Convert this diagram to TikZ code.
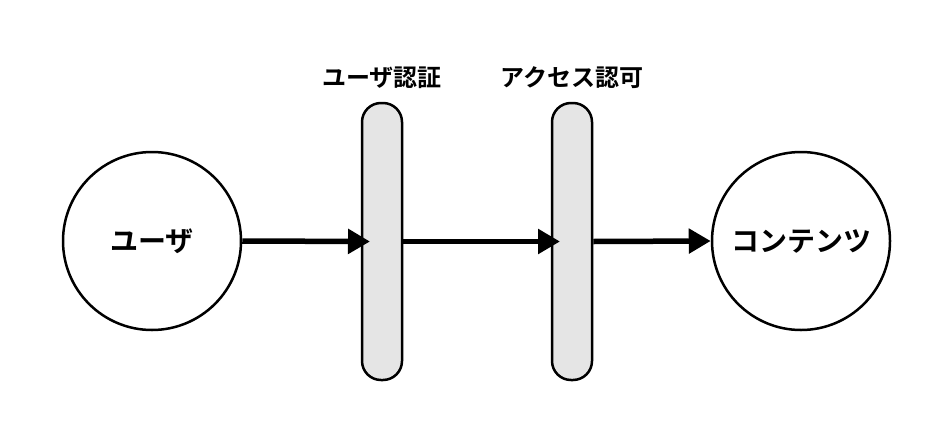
\documentclass[tikz,border=0pt]{standalone}
\usepackage{fontspec}
\newfontfamily\cjk{Noto Sans CJK JP}[BoldFont={Noto Sans CJK JP Bold}]
\usetikzlibrary{arrows.meta,positioning}
\begin{document}
\begin{tikzpicture}[x=1pt,y=-1pt]
    \tikzstyle{every node}=[font=\cjk\bfseries]
    \tikzset{actor/.style={circle,draw,line width=2.5pt,minimum size=178pt,font=\cjk\bfseries\fontsize{28}{32}\selectfont},
             gate/.style={draw,line width=2.5pt,fill=gray!20,rounded corners=19pt,minimum width=40pt,minimum height=277pt},
             gatelabel/.style={font=\cjk\bfseries\fontsize{24}{28}\selectfont},
             flow/.style={line width=5.5pt,-{Triangle[length=22pt,width=24pt]}}}
    \useasboundingbox (0,0) rectangle (952,442);
    %%% actors
    \node[actor] (user) at (152,241) {ユーザ};
    \node[actor] (content) at (801,241) {コンテンツ};
    %%% gates
    \node[gate] (auth) at (382,241.5) {};
    \node[gate] (perm) at (572,241.5) {};
    \node[gatelabel] (authlabel) at (382,78) {ユーザ認証};
    \node[gatelabel] (permlabel) at (572,78) {アクセス認可};
    \coordinate (authin) at ([xshift=-12pt]auth.center);
    \coordinate (permin) at ([xshift=-12pt]perm.center);
    %%% flow
    \draw[flow] (user.east) -- (authin);
    \draw[flow] (auth.east) -- (permin);
    \draw[flow] (perm.east) -- (content.west);
\end{tikzpicture}
\end{document}
